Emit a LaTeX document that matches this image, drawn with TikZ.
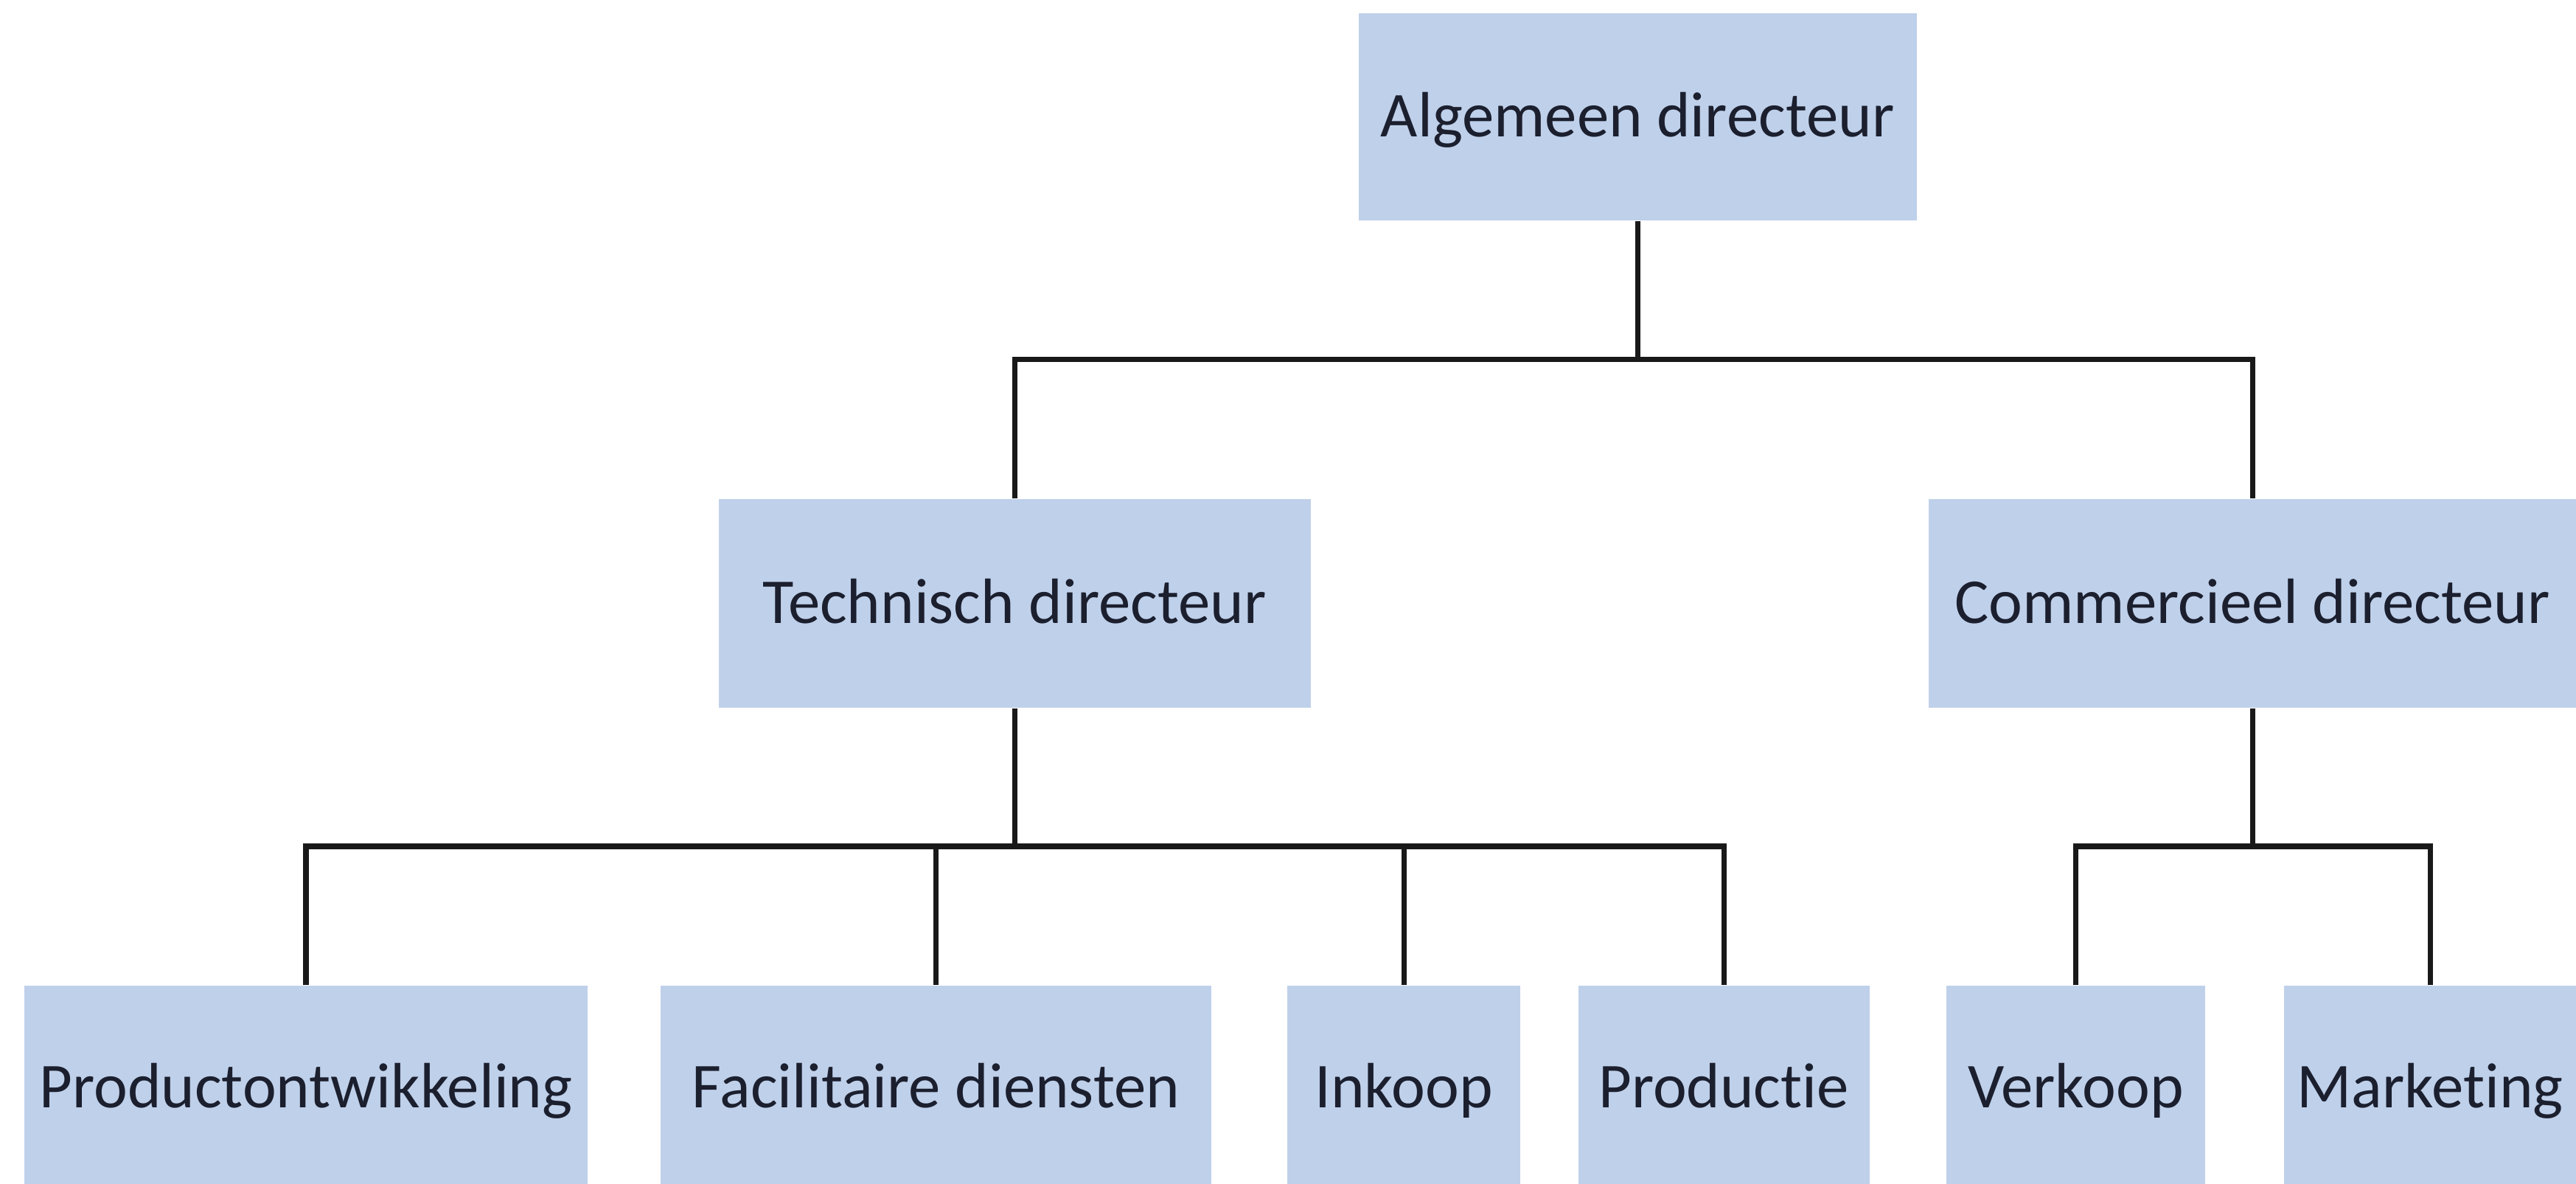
\documentclass[tikz,border=0pt]{standalone}
\usepackage{fontspec}
\setmainfont{Carlito}[Ligatures=NoCommon]
\usepackage{tikz}
\usetikzlibrary{calc,positioning}
\definecolor{boxblue}{RGB}{191,208,234}
\definecolor{inkdark}{RGB}{27,31,46}

\begin{document}
\begin{tikzpicture}[box/.style={fill=boxblue,rectangle,inner sep=0pt,text=inkdark,text height=0.55cm,text depth=0pt,font=\fontsize{24.7pt}{28pt}\selectfont},
    conn/.style={draw=black!90,line width=2pt}]
    \useasboundingbox (0,0) rectangle (34.94,16.06);

    \node[box,minimum width=7.57cm,minimum height=2.81cm] (alg) at (22.21,14.475) {Algemeen directeur};

    \node[box,minimum width=8.03cm,minimum height=2.83cm] (tech) at (13.76,7.875) {Technisch directeur};
    \node[box,minimum width=8.78cm,minimum height=2.83cm] (comm) at (30.55,7.875) {Commercieel directeur};

    \node[box,minimum width=7.64cm,minimum height=2.77cm] (prodont) at (4.15,1.305) {Productontwikkeling};
    \node[box,minimum width=7.47cm,minimum height=2.77cm] (facil) at (12.695,1.305) {Facilitaire diensten};
    \node[box,minimum width=3.16cm,minimum height=2.77cm] (inkoop) at (19.04,1.305) {Inkoop};
    \node[box,minimum width=3.95cm,minimum height=2.77cm] (prodtie) at (23.38,1.305) {Productie};
    \node[box,minimum width=3.51cm,minimum height=2.77cm] (verkoop) at (28.155,1.305) {Verkoop};
    \node[box,minimum width=3.96cm,minimum height=2.77cm] (mark) at (32.96,1.305) {Marketing};

    \coordinate (topbar) at (0,11.18);
    \coordinate (lowbar) at (0,4.58);

    \draw[conn] (alg.south) -- (alg.south |- topbar);
    \draw[conn] (tech.north) -- (tech.north |- topbar) -- (comm.north |- topbar) -- (comm.north);

    \draw[conn] (tech.south) -- (tech.south |- lowbar);
    \draw[conn] (prodont.north) -- (prodont.north |- lowbar) -- (prodtie.north |- lowbar) -- (prodtie.north);
    \draw[conn] (facil.north) -- (facil.north |- lowbar);
    \draw[conn] (inkoop.north) -- (inkoop.north |- lowbar);

    \draw[conn] (comm.south) -- (comm.south |- lowbar);
    \draw[conn] (verkoop.north) -- (verkoop.north |- lowbar) -- (mark.north |- lowbar) -- (mark.north);
  \end{tikzpicture}
\end{document}
